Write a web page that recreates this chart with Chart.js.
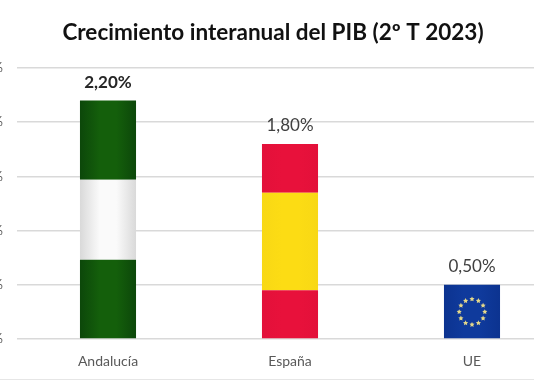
<!DOCTYPE html>
<html lang="es">
<head>
  <meta charset="UTF-8" />
  <title>Crecimiento interanual del PIB</title>
  <script src="https://cdn.jsdelivr.net/npm/chart.js"></script>
  <style>
    html, body { margin: 0; height: 100%; background: #fff; overflow: hidden; }
    #myChart { position: absolute; left: -40px; top: 0; }
    #linea_base { position: absolute; left: 0; right: 0; top: 379px; height: 1px; background: #e6e6e6; }
  </style>
</head>
<body>
  <canvas id="myChart" width="626" height="383"></canvas>
  <div id="linea_base"></div>

  <script>
    const categorias = ["Andalucía", "España", "UE"];
    const totales = [2.2, 1.8, 0.5];
    // franjas de cada bandera, de abajo a arriba
    const franjaInferior = [0.73, 0.45, 0.5];
    const franjaMedia = [0.74, 0.9, 0];
    const franjaSuperior = [0.73, 0.45, 0];
    const etiquetasY = ["0,00%", "0,50%", "1,00%", "1,50%", "2,00%", "2,50%"];
    const etiquetasValor = ["2,20%", "1,80%", "0,50%"];

    const ANCHO_BARRA = 0.308;

    // degradado horizontal: bordes oscuros, centro claro
    function degradado(context, borde, centro) {
      const chart = context.chart;
      const escala = chart.scales.x;
      if (!escala) return centro;
      const x = escala.getPixelForValue(context.dataIndex);
      const medio = escala.width / categorias.length * ANCHO_BARRA / 2;
      // antes del primer layout la escala aun no tiene pixeles
      if (!isFinite(x) || !isFinite(medio)) return centro;
      const g = chart.ctx.createLinearGradient(x - medio, 0, x + medio, 0);
      g.addColorStop(0, borde);
      g.addColorStop(0.35, centro);
      g.addColorStop(0.65, centro);
      g.addColorStop(1, borde);
      return g;
    }

    const coloresInferior = [["#0c470a", "#145f0b"], ["#e3103a", "#e8113b"], ["#0c3390", "#0f3a9c"]];
    const coloresMedia = [["#d9d9d9", "#fafafa"], ["#f8d815", "#fcdc14"], ["#fff", "#fff"]];
    const coloresSuperior = [["#0c470a", "#145f0b"], ["#e3103a", "#e8113b"], ["#fff", "#fff"]];

    function serie(datos, colores) {
      return {
        data: datos,
        backgroundColor: (c) => degradado(c, colores[c.dataIndex][0], colores[c.dataIndex][1]),
        borderWidth: 0,
        barPercentage: ANCHO_BARRA,
        categoryPercentage: 1
      };
    }

    function estrella(ctx, x, y, r) {
      ctx.beginPath();
      for (let i = 0; i < 10; i++) {
        const a = -Math.PI / 2 + i * Math.PI / 5;
        const radio = i % 2 ? r * 0.5 : r;
        ctx.lineTo(x + radio * Math.cos(a), y + radio * Math.sin(a));
      }
      ctx.closePath();
      ctx.fill();
    }

    // estrellas de la UE y etiquetas de valor encima de cada barra
    const extras = {
      id: "extras",
      afterDatasetsDraw(chart) {
        const ctx = chart.ctx;
        const x = chart.scales.x;
        const y = chart.scales.y;

        const xUE = x.getPixelForValue(2);
        const yUE = y.getPixelForValue(totales[2] / 2);
        ctx.save();
        ctx.fillStyle = "#e6d98a";
        for (let i = 0; i < 12; i++) {
          const a = i * Math.PI / 6;
          estrella(ctx, xUE + 12.8 * Math.cos(a), yUE + 12.8 * Math.sin(a), 2.7);
        }

        ctx.textAlign = "center";
        ctx.textBaseline = "middle";
        totales.forEach((v, i) => {
          ctx.font = (i === 0 ? "bold " : "") + "17px Lato";
          ctx.fillStyle = i === 0 ? "#262626" : "#404040";
          ctx.fillText(etiquetasValor[i], x.getPixelForValue(i), y.getPixelForValue(v) - 18);
        });
        ctx.restore();
      }
    };

    new Chart(document.getElementById("myChart"), {
      type: "bar",
      data: {
        labels: categorias,
        datasets: [
          serie(franjaInferior, coloresInferior),
          serie(franjaMedia, coloresMedia),
          serie(franjaSuperior, coloresSuperior)
        ]
      },
      plugins: [extras],
      options: {
        responsive: false,
        animation: false,
        // el padding izquierdo centra el titulo sobre el recorte de la ventana
        layout: { padding: { left: 23, right: 23, top: 0, bottom: 0 } },
        scales: {
          x: {
            stacked: true,
            grid: { display: false },
            border: { display: false },
            ticks: { color: "#595959", font: { family: "Lato", size: 14 }, padding: 6 },
            afterFit(s) { s.height = 44; }
          },
          y: {
            stacked: true,
            min: 0,
            max: 2.5,
            ticks: {
              stepSize: 0.5,
              color: "#595959",
              padding: 14,
              font: { family: "Lato", size: 13 },
              callback: (v, i) => etiquetasY[i]
            },
            grid: { color: "#d9d9d9", lineWidth: 1.5, drawTicks: false },
            border: { display: false },
            afterFit(s) { s.width = 34; }
          }
        },
        plugins: {
          legend: { display: false },
          tooltip: { enabled: false },
          title: {
            display: true,
            text: "Crecimiento interanual del PIB (2º T 2023)",
            color: "#111",
            font: { family: "Lato", size: 22.5, weight: "bold" },
            padding: { top: 19, bottom: 22 }
          }
        }
      }
    });
  </script>
</body>
</html>
